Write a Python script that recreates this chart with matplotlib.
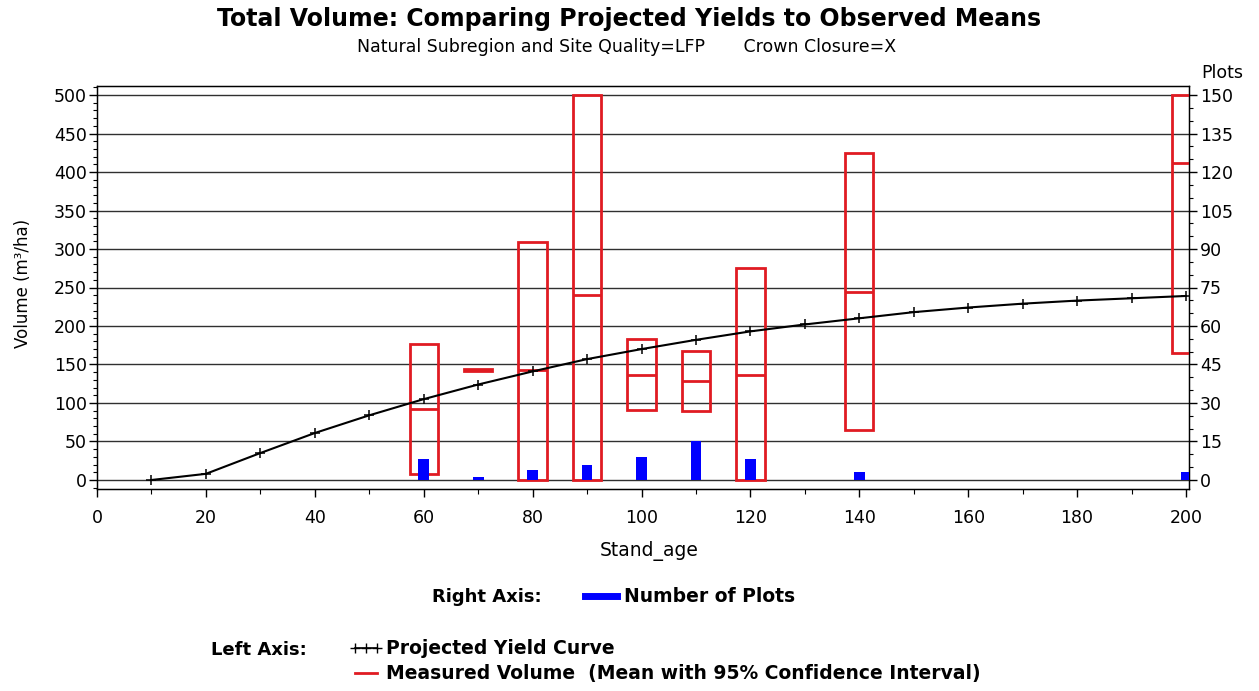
import matplotlib
matplotlib.use("Agg")
import matplotlib.pyplot as plt
from matplotlib.patches import Rectangle
from matplotlib.lines import Line2D
from matplotlib.ticker import MultipleLocator

plt.rcParams["font.family"] = ["DejaVu Sans"]

# Projected yield curve (left axis, m3/ha)
curve_age = [10, 20, 30, 40, 50, 60, 70, 80, 90, 100,
             110, 120, 130, 140, 150, 160, 170, 180, 190, 200]
curve_volume = [0, 8, 35, 61, 84, 105, 124, 141, 157, 170,
                182, 193, 202, 210, 218, 224, 229, 233, 236, 239]

# Measured volume: mean with 95% confidence interval (left axis)
obs_age = [60, 70, 80, 90, 100, 110, 120, 140, 200]
obs_mean = [92, 143, 143, 240, 137, 129, 137, 244, 412]
obs_lower = [8, 142, 0, 0, 91, 89, 0, 65, 165]
obs_upper = [176, 144, 309, 500, 183, 168, 275, 425, 500]

# Number of plots (right axis)
n_plots = [8, 1, 4, 6, 9, 15, 8, 3, 3]

W, H = 1259, 691
fig = plt.figure(figsize=(W / 100, H / 100), dpi=100)
fig.patch.set_facecolor("white")

ax = fig.add_axes([97 / W, 1 - 489 / H, 1092 / W, 403 / H])
ylo, yhi = -11.7, 511.7
ax.set_xlim(0, 200.55)
ax.set_ylim(ylo, yhi)

red = "#E01B22"
box_half = 2.6
for a, m, lo, hi in zip(obs_age, obs_mean, obs_lower, obs_upper):
    ax.add_patch(Rectangle((a - box_half, lo), 2 * box_half, hi - lo,
                           fill=False, edgecolor=red, linewidth=2.0, zorder=3))
    ax.hlines(m, a - box_half, a + box_half, color=red, linewidth=2.0, zorder=3)

ax.plot(curve_age, curve_volume, color="black", linewidth=1.5,
        marker="+", markersize=6.5, markeredgewidth=1.1, zorder=4)

ax.yaxis.set_major_locator(MultipleLocator(50))
ax.yaxis.set_minor_locator(MultipleLocator(10))
ax.xaxis.set_major_locator(MultipleLocator(20))
ax.xaxis.set_minor_locator(MultipleLocator(10))
ax.grid(axis="y", which="major", color="#303030", linewidth=1.0)
ax.set_axisbelow(True)
ax.tick_params(axis="y", which="major", direction="out", length=5.8, width=1,
               labelsize=12.5, pad=1.5)
ax.tick_params(axis="y", which="minor", direction="out", length=2.9, width=0.8)
ax.tick_params(axis="x", which="major", direction="out", length=5.8, width=1,
               labelsize=12.5, pad=8.5)
ax.tick_params(axis="x", which="minor", direction="out", length=3.6, width=0.8)
for s in ax.spines.values():
    s.set_linewidth(1.0)
    s.set_color("black")

ax.set_xlabel("Stand_age", fontsize=13.5, va="center")
ax.xaxis.set_label_coords(0.506, -0.154)
ax.set_ylabel("Volume (m\u00b3/ha)", fontsize=12, va="center")
ax.yaxis.set_label_coords(-0.068, 0.511)

ax2 = ax.twinx()
ax2.set_ylim(ylo * 0.3, yhi * 0.3)
ax2.bar(obs_age, n_plots, width=2.0, color="#0000FF", zorder=3)
ax2.yaxis.set_major_locator(MultipleLocator(15))
ax2.yaxis.set_minor_locator(MultipleLocator(5))
ax2.tick_params(axis="y", which="major", direction="out", length=5.8, width=1,
                labelsize=12.5, pad=2)
ax2.tick_params(axis="y", which="minor", direction="out", length=2.9, width=0.8)
fig.text(1222 / W, 1 - 73 / H, "Plots", fontsize=12.5, ha="center", va="center")

# Titles
fig.text(629 / W, 1 - 19 / H,
         "Total Volume: Comparing Projected Yields to Observed Means",
         fontsize=17, fontweight="bold", ha="center", va="center")
fig.text(627 / W, 1 - 47 / H,
         "Natural Subregion and Site Quality=LFP       Crown Closure=X",
         fontsize=12.5, ha="center", va="center")

# Legends below the plot
fig.text(432 / W, 1 - 597 / H, "Right Axis:", fontsize=13, fontweight="bold",
         ha="left", va="center")
leg1 = fig.legend(handles=[Line2D([], [], color="#0000FF", linewidth=5)],
                  labels=["Number of Plots"], loc="center left",
                  bbox_to_anchor=(585 / W, 1 - 597 / H), frameon=False,
                  prop={"size": 13.5, "weight": "bold"}, handlelength=1.7,
                  handletextpad=0.4, borderpad=0, borderaxespad=0)

fig.text(211 / W, 1 - 650 / H, "Left Axis:", fontsize=13, fontweight="bold",
         ha="left", va="center")
leg2 = fig.legend(handles=[Line2D([], [], color="black", linewidth=1.2,
                                  marker="+", markersize=7, markeredgewidth=1.0),
                           Line2D([], [], color=red, linewidth=2.0)],
                  labels=["Projected Yield Curve",
                          "Measured Volume  (Mean with 95% Confidence Interval)"],
                  loc="center left", bbox_to_anchor=(349 / W, 1 - 661.5 / H),
                  frameon=False, prop={"size": 13.5, "weight": "bold"},
                  numpoints=3, handlelength=1.8, handletextpad=0.15,
                  labelspacing=0.32, borderpad=0, borderaxespad=0)

fig.savefig("out.png", dpi=100, facecolor="white")
